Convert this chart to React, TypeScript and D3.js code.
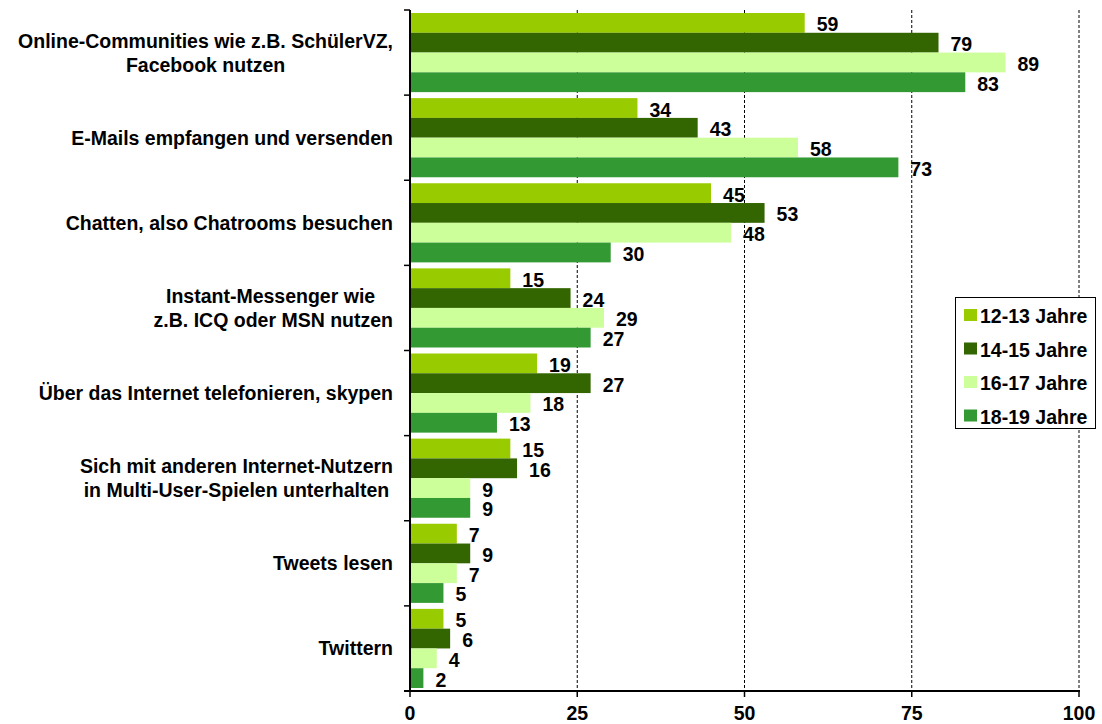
import React, { useMemo } from "react";
import * as d3 from "d3";

const categoryLines: string[][] = [
  ["Online-Communities wie z.B. SchülerVZ,", "Facebook nutzen"],
  ["E-Mails empfangen und versenden"],
  ["Chatten, also Chatrooms besuchen"],
  ["Instant-Messenger wie ", "z.B. ICQ oder MSN nutzen"],
  ["Über das Internet telefonieren, skypen"],
  ["Sich mit anderen Internet-Nutzern", "in Multi-User-Spielen unterhalten"],
  ["Tweets lesen"],
  ["Twittern"],
];

const seriesNames = ["12-13 Jahre", "14-15 Jahre", "16-17 Jahre", "18-19 Jahre"];
const seriesColors = ["#99CC00", "#336600", "#CCFF99", "#339933"];

const s1213 = [59, 34, 45, 15, 19, 15, 7, 5];
const s1415 = [79, 43, 53, 24, 27, 16, 9, 6];
const s1617 = [89, 58, 48, 29, 18, 9, 7, 4];
const s1819 = [83, 73, 30, 27, 13, 9, 5, 2];

const xTicks = [0, 25, 50, 75, 100];

const FONT = "'Liberation Sans', Arial, Helvetica, sans-serif";
const FS = 19.5;
const W = 1102;
const H = 724;

export default function App() {
  const series = [s1213, s1415, s1617, s1819];
  const left = 410;
  const right = 1079;
  const top = 10;
  const bottom = 691;

  const x = d3.scaleLinear().domain([0, 100]).range([left, right]);
  const yCat = d3
    .scaleBand<number>()
    .domain(categoryLines.map((_, i) => i))
    .range([top, bottom])
    .padding(0);
  const bw = yCat.bandwidth();
  const ySer = d3
    .scaleBand<number>()
    .domain(seriesNames.map((_, i) => i))
    .range([3, bw - 3])
    .padding(0);

  const measure = useMemo(() => {
    const c = document.createElement("canvas");
    const ctx = c.getContext("2d")!;
    ctx.font = `bold ${FS}px ${FONT}`;
    return (t: string) => ctx.measureText(t).width;
  }, []);

  const labelRight = 393;
  const lineH = 24;

  const boundaries = d3.range(categoryLines.length + 1).map((i) =>
    i < categoryLines.length ? (yCat(i) as number) : bottom
  );

  return (
    <svg
      width={W}
      height={H}
      style={{ position: "absolute", left: 0, top: 0, background: "#fff" }}
      fontFamily={FONT}
    >
      <rect x={0} y={0} width={W} height={H} fill="#fff" />
      {/* gridlines */}
      {xTicks.slice(1).map((t) => (
        <line
          key={"g" + t}
          x1={x(t)}
          x2={x(t)}
          y1={top}
          y2={bottom}
          stroke="#000"
          strokeWidth={1}
          strokeDasharray="3,2"
        />
      ))}
      {/* bars */}
      {categoryLines.map((_, ci) =>
        series.map((s, si) => {
          const y0 = (yCat(ci) as number) + (ySer(si) as number);
          const h = ySer.bandwidth();
          return (
            <g key={`b${ci}-${si}`}>
              <rect
                x={x(0)}
                y={y0}
                width={x(s[ci]) - x(0)}
                height={h}
                fill={seriesColors[si]}
              />
              <text
                x={x(s[ci]) + 12}
                y={y0 + h / 2 + 1.5}
                dominantBaseline="central"
                fontSize={FS}
                fontWeight="bold"
                fill="#000"
              >
                {s[ci]}
              </text>
            </g>
          );
        })
      )}
      {/* axes */}
      <line x1={left} x2={left} y1={top} y2={bottom + 1} stroke="#000" strokeWidth={2} />
      <line x1={left - 6} x2={right + 1} y1={bottom} y2={bottom} stroke="#000" strokeWidth={2} />
      {boundaries.map((b, i) => (
        <line key={"yt" + i} x1={left - 6} x2={left} y1={b} y2={b} stroke="#000" strokeWidth={1.5} />
      ))}
      {xTicks.map((t) => (
        <g key={"xt" + t}>
          <line x1={x(t)} x2={x(t)} y1={bottom} y2={bottom + 6} stroke="#000" strokeWidth={1.5} />
          <text
            x={x(t)}
            y={719.5}
            textAnchor="middle"
            fontSize={FS}
            fontWeight="bold"
            fill="#000"
          >
            {t}
          </text>
        </g>
      ))}
      {/* category labels */}
      {categoryLines.map((lines, ci) => {
        const maxW = Math.max(...lines.map((l) => measure(l)));
        const cx = labelRight - maxW / 2;
        const cy = (yCat(ci) as number) + bw / 2;
        const y0 = cy - ((lines.length - 1) * lineH) / 2;
        return (
          <text
            key={"c" + ci}
            textAnchor="middle"
            fontSize={FS}
            fontWeight="bold"
            fill="#000"
            xmlSpace="preserve"
            style={{ whiteSpace: "pre" }}
          >
            {lines.map((l, li) => (
              <tspan key={li} x={cx} y={y0 + li * lineH} dominantBaseline="central">
                {l}
              </tspan>
            ))}
          </text>
        );
      })}
      {/* legend */}
      <g>
        <rect x={955.5} y={297.5} width={140} height={131} fill="#fff" stroke="#000" strokeWidth={1} />
        {seriesNames.map((n, i) => {
          const cy = 315 + i * 33.5;
          return (
            <g key={"l" + i}>
              <rect x={964} y={cy - 6} width={13} height={12} fill={seriesColors[i]} />
              <text
                x={980}
                y={cy + 1}
                dominantBaseline="central"
                fontSize={FS}
                fontWeight="bold"
                fill="#000"
              >
                {n}
              </text>
            </g>
          );
        })}
      </g>
    </svg>
  );
}
